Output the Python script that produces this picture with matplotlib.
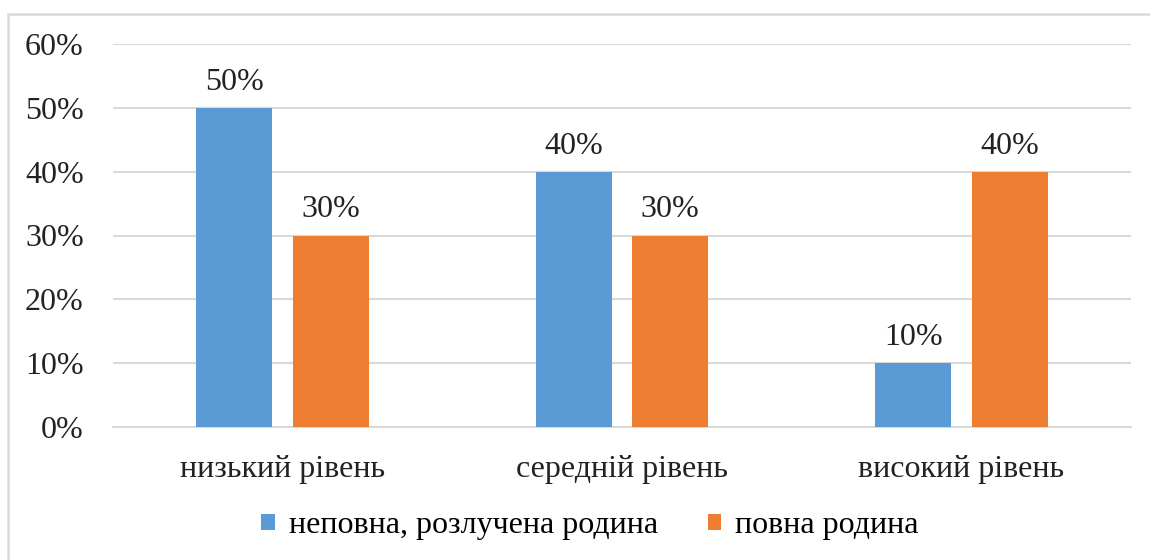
import matplotlib
matplotlib.use("Agg")
import matplotlib.pyplot as plt
import numpy as np
from matplotlib.patches import Rectangle

categorias = ["низький рівень", "середній рівень", "високий рівень"]
series_nomes = ["неповна, розлучена родина", "повна родина"]
vals_nepovna = [0.50, 0.40, 0.10]
vals_povna = [0.30, 0.30, 0.40]
yticks = [0.0, 0.1, 0.2, 0.3, 0.4, 0.5, 0.6]

plt.rcParams["font.family"] = ["Liberation Serif", "DejaVu Serif"]
FS = 23

fig = plt.figure(figsize=(11.5, 5.6), dpi=100)
ax = fig.add_axes([113 / 1150, 1 - 427 / 560, (1131 - 113) / 1150, (427 - 44) / 560])

x = np.arange(len(categorias))
w = 0.224
off = 0.142
cores = ["#5B9BD5", "#ED7D31"]

b1 = ax.bar(x - off, vals_nepovna, w, color=cores[0], label=series_nomes[0], zorder=3)
b2 = ax.bar(x + off, vals_povna, w, color=cores[1], label=series_nomes[1], zorder=3)

# rótulos de dados acima das barras
for barras, vals in ((b1, vals_nepovna), (b2, vals_povna)):
    for b, v in zip(barras, vals):
        ax.annotate(f"{v * 100:.0f}%", (b.get_x() + b.get_width() / 2, v),
                    xytext=(0, 8), textcoords="offset points",
                    ha="center", va="bottom", fontsize=FS, color="#222222")

ax.set_xlim(-0.5, 2.5)
ax.set_ylim(0, 0.6)
ax.set_yticks(yticks)
ax.set_yticklabels([f"{t * 100:.0f}%" for t in yticks])
ax.set_xticks(x)
ax.set_xticklabels(categorias)
ax.tick_params(axis="both", length=0, labelsize=FS, colors="#222222")
ax.tick_params(axis="y", pad=21)
ax.tick_params(axis="x", pad=20)

ax.grid(axis="y", color="#D9D9D9", lw=1.5, zorder=0)
for s in ("top", "right", "left"):
    ax.spines[s].set_visible(False)
ax.spines["bottom"].set_color("#D9D9D9")
ax.spines["bottom"].set_linewidth(1.5)

fig.legend(handles=[b1, b2], loc="center", bbox_to_anchor=(590 / 1150, 1 - 526 / 560),
           ncol=2, frameon=False, fontsize=FS, handlelength=0.42, handleheight=0.42,
           handletextpad=0.45, columnspacing=1.55)

# moldura cinza do gráfico (cortada à direita e embaixo)
fig.patches.append(Rectangle((8 / 1150, -0.05), 1.1, 1 - 14 / 560 + 0.05,
                             transform=fig.transFigure, fill=False,
                             edgecolor="#D9D9D9", lw=1.8))

fig.savefig("out.png", dpi=100)
